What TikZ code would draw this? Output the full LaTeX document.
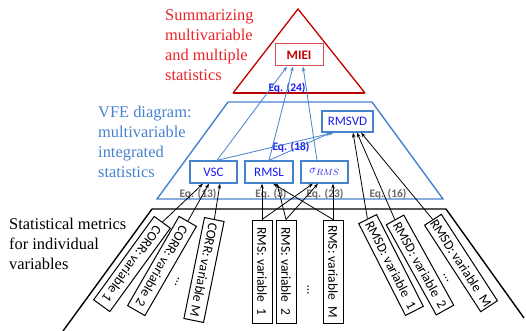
\documentclass[tikz,border=0pt]{standalone}
\usepackage{fontspec}
\setmainfont{Liberation Serif}
\newfontfamily\carl{Carlito}
\usetikzlibrary{arrows.meta}
\definecolor{tred}{RGB}{235,35,40}
\definecolor{dred}{RGB}{192,0,0}
\definecolor{mred}{RGB}{215,80,80}
\definecolor{vblue}{RGB}{70,130,205}
\definecolor{bblue}{RGB}{25,25,245}
\definecolor{eqg}{RGB}{105,105,105}
\begin{document}
\begin{tikzpicture}[x=1pt,y=-1pt,
  bluebox/.style={draw=vblue, line width=1.2pt, minimum height=22pt, inner sep=0pt, text=bblue, font=\carl\fontsize{13}{15}\selectfont},
  blackbox/.style={draw=black, line width=1pt, minimum width=103pt, minimum height=20pt, inner sep=0pt, font=\carl\fontsize{13.5}{15}\selectfont},
  eqlabel/.style={text=eqg, font=\carl\bfseries\fontsize{11.5}{13}\selectfont, inner sep=0pt},
  eqblue/.style={text=bblue, font=\carl\bfseries\fontsize{11.5}{13}\selectfont, inner sep=0pt},
  dots/.style={font=\carl\fontsize{13}{15}\selectfont, inner sep=0pt},
  bigtext/.style={anchor=north west, align=left, inner sep=0pt, font=\fontsize{16.4}{20}\selectfont},
  karrow/.style={-{Stealth[length=5pt,width=3.5pt]}, line width=0.8pt},
  barrow/.style={-{Stealth[length=5pt,width=3.5pt]}, line width=0.8pt, draw=vblue}
]
\useasboundingbox (0,0) rectangle (526,331);

% red triangle
\coordinate (tA) at (298,9);
\coordinate (tL) at (233,93);
\coordinate (tR) at (365,93);
\draw[dred, line width=1.3pt, line join=miter] (tL) -- (tA) -- (tR);
\draw[dred, line width=2.6pt] (tL) -- (tR);
\node[draw=mred, line width=1pt, minimum width=48pt, minimum height=22pt, inner sep=0pt, text=dred, font=\carl\bfseries\fontsize{13}{15}\selectfont] (miei) at (299,55) {MIEI};
\node[bigtext, text=tred] (redtxt) at (165,9.5) {Summarizing\\multivariable\\and multiple\\statistics};

% blue trapezoid
\coordinate (bTL) at (228,102);
\coordinate (bTR) at (372,102);
\coordinate (bBR) at (443,199);
\coordinate (bBL) at (157,199);
\draw[vblue, line width=1.4pt] (bTL) -- (bTR) -- (bBR) -- (bBL) -- cycle;
\node[bigtext, text=vblue] (bluetxt) at (98,106) {VFE diagram:\\multivariable\\integrated\\statistics};

\node[bluebox, minimum width=47pt] (vsc) at (213.5,172) {VSC};
\node[bluebox, minimum width=48pt] (rmsl) at (269,172) {RMSL};
\node[bluebox, minimum width=47pt] (sig) at (324.5,172) {$\sigma_{RMS}$};
\node[bluebox, minimum width=51pt, minimum height=21pt] (rmsvd) at (347.5,121.5) {RMSVD};

\node[eqblue] (eq24) at (287,88) {Eq. (24)};
\node[eqblue] (eq18) at (291,147) {Eq. (18)};
\node[eqlabel] (eq13) at (198,194) {Eq. (13)};
\node[eqlabel] (eq3) at (271,194) {Eq. (3)};
\node[eqlabel] (eq23) at (325,194) {Eq. (23)};
\node[eqlabel] (eq16) at (388,194) {Eq. (16)};

% black outline
\coordinate (kBL) at (63,331);
\coordinate (kTL) at (152,209);
\coordinate (kTR) at (446,209);
\coordinate (kBR) at (524,318);
\draw[black, line width=1.4pt] (kBL) -- (kTL) -- (kTR) -- (kBR);
\node[bigtext, text=black] (blacktxt) at (9,217.5) {Statistical metrics\\for individual\\variables};

% CORR boxes
\node[blackbox, rotate=-126] (c1) at (132,264) {CORR: variable 1};
\node[blackbox, rotate=-120] (c2) at (162,266) {CORR: variable 2};
\node[blackbox, rotate=-101.5] (cm) at (204,270) {CORR: variable M};
\node[dots, rotate=-115] (cdots) at (177,282) {…};

% RMS boxes
\node[blackbox, rotate=-90] (r1) at (262,271.5) {RMS: variable~ 1};
\node[blackbox, rotate=-90] (r2) at (286,271.5) {RMS: variable~ 2};
\node[blackbox, rotate=-90] (rm) at (333,271.5) {RMS: variable~ M};
\node[dots, rotate=-90] (rdots) at (308,290) {…};

% RMSD boxes
\node[blackbox, rotate=-63] (d1) at (391,265) {RMSD: variable~ 1};
\node[blackbox, rotate=-61] (d2) at (420,265) {RMSD: variable~ 2};
\node[blackbox, rotate=-57] (dm) at (461,263) {RMSD: variable~ M};
\node[dots, rotate=-60] (ddots) at (446,278) {…};

% black connectors
\draw[karrow] (c1.west) -- ([xshift=-10.5pt]vsc.south);
\draw[karrow] (c2.west) -- ([xshift=-4.5pt]vsc.south);
\draw[karrow] (cm.west) -- ([xshift=6.5pt]vsc.south);
\draw[karrow] (r1.west) -- ([xshift=-7pt]rmsl.south);
\draw[karrow] (r1.west) -- ([xshift=-11.5pt]sig.south);
\draw[karrow] (r2.west) -- ([xshift=8pt]rmsl.south);
\draw[karrow] (r2.west) -- ([xshift=-6.5pt]sig.south);
\draw[karrow] (rm.west) -- ([xshift=4pt]rmsl.south);
\draw[karrow] (rm.west) -- ([xshift=8.5pt]sig.south);
\draw[karrow] (d1.west) -- ([xshift=5.5pt]rmsvd.south);
\draw[karrow] (d2.west) -- ([xshift=9.5pt]rmsvd.south);
\draw[karrow] (dm.west) -- ([xshift=13.5pt]rmsvd.south);

% blue connectors
\draw[barrow] ([xshift=3.5pt]vsc.north) -- ([xshift=-12pt]miei.south);
\draw[barrow] (rmsl.north) -- ([xshift=-6pt]miei.south);
\draw[barrow] ([xshift=-7.5pt]sig.north) -- ([xshift=4pt]miei.south);
\draw[barrow] ([xshift=3.5pt]vsc.north) -- ([xshift=-13.5pt]rmsvd.south);
\draw[barrow] (rmsl.north) -- ([xshift=-16.5pt]rmsvd.south);
\end{tikzpicture}
\end{document}
